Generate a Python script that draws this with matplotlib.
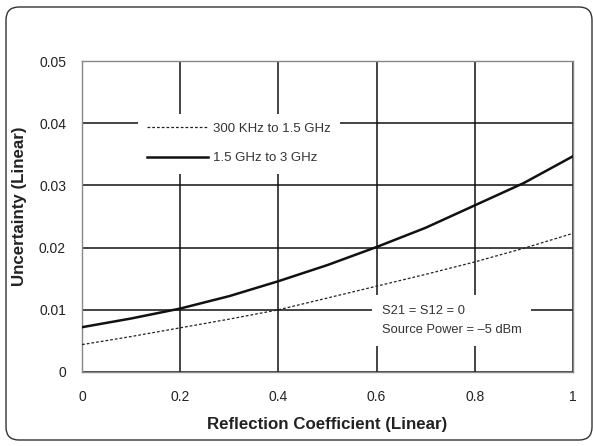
import matplotlib.pyplot as plt
from matplotlib.patches import FancyBboxPatch

# reflection coefficient samples
refl = [0.0, 0.1, 0.2, 0.3, 0.4, 0.5, 0.6, 0.7, 0.8, 0.9, 1.0]
low_band = [0.0044, 0.0057, 0.0071, 0.0085, 0.0100, 0.0119, 0.0138, 0.0157, 0.0177, 0.0199, 0.0223]
high_band = [0.0072, 0.0086, 0.0102, 0.0122, 0.0146, 0.0172, 0.0201, 0.0232, 0.0268, 0.0304, 0.0347]

x_ticks = [0, 0.2, 0.4, 0.6, 0.8, 1]
x_labels = ["0", "0.2", "0.4", "0.6", "0.8", "1"]
y_ticks = [0, 0.01, 0.02, 0.03, 0.04, 0.05]
y_labels = ["0", "0.01", "0.02", "0.03", "0.04", "0.05"]

plt.rcParams["font.family"] = ["Liberation Sans", "DejaVu Sans"]
txt = "#222222"

fig = plt.figure(figsize=(5.93, 4.46), dpi=100)
ax = fig.add_axes([0.1383, 0.166, 0.828, 0.697])

# outer rounded frame
frame = FancyBboxPatch((0.06, 0.06), 5.86, 4.33, boxstyle="round,pad=0,rounding_size=0.13",
                       transform=fig.dpi_scale_trans, facecolor="none", edgecolor="#333333",
                       linewidth=1.0, zorder=0)
fig.patches.append(frame)

ax.plot(refl, low_band, color="#222222", linewidth=0.9, linestyle=(0, (2.2, 1.6)),
        label="300 KHz to 1.5 GHz", zorder=3)
ax.plot(refl, high_band, color="#111111", linewidth=1.8, label="1.5 GHz to 3 GHz", zorder=3)

ax.set_xlim(0, 1)
ax.set_ylim(0, 0.05)
ax.set_xticks(x_ticks)
ax.set_xticklabels(x_labels)
ax.set_yticks(y_ticks)
ax.set_yticklabels(y_labels)
ax.tick_params(length=0, labelsize=10, colors=txt)
ax.tick_params(axis="x", pad=13)
ax.tick_params(axis="y", pad=11.5)
ax.grid(True, color="#111111", linewidth=1.1)
ax.set_axisbelow(True)
for s in ax.spines.values():
    s.set_color("#888888")
    s.set_linewidth(1.0)

ax.set_xlabel("Reflection Coefficient (Linear)", fontsize=12.2, fontweight="bold", color=txt, labelpad=9)
ax.set_ylabel("Uncertainty (Linear)", fontsize=12.2, fontweight="bold", color=txt)
ax.yaxis.set_label_coords(-0.112, 0.534)

leg = ax.legend(loc="upper left", bbox_to_anchor=(0.114, 0.831), borderaxespad=0,
                fontsize=9.5, handlelength=4.6, handletextpad=0.4,
                labelspacing=1.3, borderpad=0.7, fancybox=False, framealpha=1,
                edgecolor="none", facecolor="white")
for t in leg.get_texts():
    t.set_color("#333333")
leg.set_zorder(5)

ax.text(0.611, 0.0083, "S21 = S12 = 0\nSource Power = \u20135 dBm", fontsize=9.3, color="#333333",
        linespacing=1.78, va="center", ha="left",
        bbox=dict(facecolor="white", edgecolor="none", pad=7), zorder=5)

fig.savefig("out.png", dpi=100)
plt.close(fig)
